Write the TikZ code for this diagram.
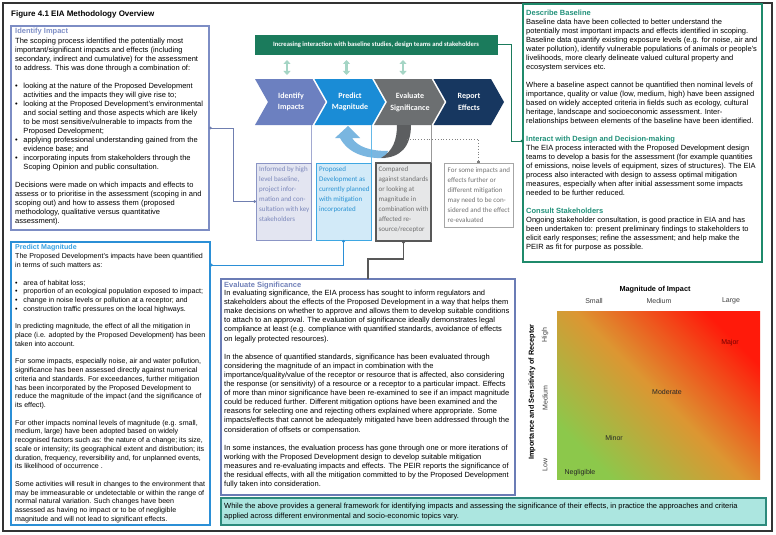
\documentclass[tikz,border=0pt]{standalone}
\usepackage{fontspec}
\setmainfont{Liberation Sans}
\newfontfamily\calfont{Carlito}
\usetikzlibrary{arrows.meta,calc}
\definecolor{idc}{HTML}{7D8DC4}
\definecolor{idh}{HTML}{7F8FC6}
\definecolor{pmc}{HTML}{2B8FD6}
\definecolor{pmh}{HTML}{35A0E2}
\definecolor{evc}{HTML}{6B7CB5}
\definecolor{evh}{HTML}{7080B8}
\definecolor{dbc}{HTML}{1F8A6B}
\definecolor{dbh}{HTML}{22917A}
\definecolor{gbarc}{HTML}{1B7B5C}
\definecolor{stripf}{HTML}{ACE6E0}
\definecolor{stripd}{HTML}{2D8A7C}
\definecolor{chA}{HTML}{6C80C0}
\definecolor{chB}{HTML}{1A8CD6}
\definecolor{chC}{HTML}{6C6F71}
\definecolor{chD}{HTML}{173760}
\definecolor{dbl}{HTML}{A5D5C5}
\definecolor{loopb}{HTML}{7AB6E0}
\definecolor{bAf}{HTML}{E3E5F1}
\definecolor{bAd}{HTML}{8B95C5}
\definecolor{bAt}{HTML}{7C88BB}
\definecolor{bBf}{HTML}{D2EAF8}
\definecolor{bBd}{HTML}{3EA7E2}
\definecolor{bBt}{HTML}{2A92D2}
\definecolor{bCf}{HTML}{E6E7E8}
\definecolor{bCd}{HTML}{585858}
\definecolor{bCt}{HTML}{707070}
\definecolor{matG}{HTML}{8CC84B}
\definecolor{matO}{HTML}{DC9632}
\definecolor{matR}{HTML}{FF1A0A}
\newcommand\bitem{\makebox[8.3pt][l]{\textbullet}}
\newcommand\bcont{\hspace*{8.3pt}}
\begin{document}
\begin{tikzpicture}[x=1pt,y=-1pt,
  txt/.style={anchor=north west, inner sep=0pt, align=left},
  box/.style={anchor=north west, inner sep=0pt, outer sep=0pt},
  dots/.style={{Circle[length=2.6pt]}-{Circle[length=2.6pt]}},
  chevlab/.style={text=white, align=center, inner sep=0pt, font=\calfont\bfseries\fontsize{8}{11.5}\selectfont},
  smalltxt/.style={txt, font=\calfont\fontsize{7}{10}\selectfont},
  dblarrow/.style={dbl, line width=2.6pt, {Triangle[width=7pt,length=4pt]}-{Triangle[width=7pt,length=4pt]}}
]
\useasboundingbox (0,0) rectangle (776,535);
\fill[white] (0,0) rectangle (776,535);
\node[box, draw=black!80, line width=1.1pt, minimum width=769pt, minimum height=528pt] (frame) at (3,3) {};
\node[txt, font=\bfseries\fontsize{8}{9}\selectfont] (title) at (11,11) {Figure 4.1 EIA Methodology Overview};

% ---------- Identify Impact box
\node[box, draw=idc, line width=1.1pt, minimum width=198pt, minimum height=204pt] (idbox) at (11,26) {};
\node[txt, font=\fontsize{7.5}{9}\selectfont] (idtext) at (15,28.3) {%
\textbf{\color{idh}Identify Impact}\\[1pt]
The scoping process identified the potentially most\\
important/significant impacts and effects (including\\
secondary, indirect and cumulative) for the assessment\\
to address.  This was done through a combination of:\\[9pt]
\bitem looking at the nature of the Proposed Development\\
\bcont activities and the impacts they will give rise to;\\
\bitem looking at the Proposed Development’s environmental\\
\bcont and social setting and those aspects which are likely\\
\bcont to be most sensitive/vulnerable to impacts from the\\
\bcont Proposed Development;\\
\bitem applying professional understanding gained from the\\
\bcont evidence base; and\\
\bitem incorporating inputs from stakeholders through the\\
\bcont Scoping Opinion and public consultation.\\[9pt]
Decisions were made on which impacts and effects to\\
assess or to prioritise in the assessment (scoping in and\\
scoping out) and how to assess them (proposed\\
methodology, qualitative versus quantitative\\
assessment).};

% ---------- Predict Magnitude box
\node[box, draw=pmc, line width=1.1pt, minimum width=199pt, minimum height=283pt] (pmbox) at (11,242) {};
\node[txt, font=\fontsize{7.1}{8.75}\selectfont] (pmtext) at (15,244) {%
\textbf{\color{pmh}Predict Magnitude}\\[0.8pt]
The Proposed Development’s impacts have been quantified\\
in terms of such matters as:\\[8.75pt]
\bitem area of habitat loss;\\
\bitem proportion of an ecological population exposed to impact;\\
\bitem change in noise levels or pollution at a receptor; and\\
\bitem construction traffic pressures on the local highways.\\[8.75pt]
In predicting magnitude, the effect of all the mitigation in\\
place (i.e. adopted by the Proposed Development) has been\\
taken into account.\\[8.75pt]
For some impacts, especially noise, air and water pollution,\\
significance has been assessed directly against numerical\\
criteria and standards.  For exceedances, further mitigation\\
has been incorporated by the Proposed Development to\\
reduce the magnitude of the impact (and the significance of\\
its effect).\\[8.75pt]
For other impacts nominal levels of magnitude (e.g. small,\\
medium, large) have been adopted based on widely\\
recognised factors such as: the nature of a change; its size,\\
scale or intensity; its geographical extent and distribution; its\\
duration, frequency, reversibility and, for unplanned events,\\
its likelihood of occurrence .\\[8.75pt]
Some activities will result in changes to the environment that\\
may be immeasurable or undetectable or within the range of\\
normal natural variation.  Such changes have been\\
assessed as having no impact or to be of negligible\\
magnitude and will not lead to significant effects.};

% ---------- Evaluate Significance box
\node[box, draw=evc, line width=1.1pt, minimum width=294pt, minimum height=216pt] (evbox) at (221,279) {};
\node[txt, font=\fontsize{7.5}{9.1}\selectfont] (evtext) at (224,282.3) {%
\textbf{\color{evh}Evaluate Significance}\\[-1.5pt]
In evaluating significance, the EIA process has sought to inform regulators and\\
stakeholders about the effects of the Proposed Development in a way that helps them\\
make decisions on whether to approve and allows them to develop suitable conditions\\
to attach to an approval.  The evaluation of significance ideally demonstrates legal\\
compliance at least (e.g. compliance with quantified standards, avoidance of effects\\
on legally protected resources).\\[9.1pt]
In the absence of quantified standards, significance has been evaluated through\\
considering the magnitude of an impact in combination with the\\
importance/quality/value of the receptor or resource that is affected, also considering\\
the response (or sensitivity) of a resource or a receptor to a particular impact.  Effects\\
of more than minor significance have been re-examined to see if an impact magnitude\\
could be reduced further.  Different mitigation options have been examined and the\\
reasons for selecting one and rejecting others explained where appropriate.  Some\\
impacts/effects that cannot be adequately mitigated have been addressed through the\\
consideration of offsets or compensation.\\[9.1pt]
In some instances, the evaluation process has gone through one or more iterations of\\
working with the Proposed Development design to develop suitable mitigation\\
measures and re-evaluating impacts and effects.  The PEIR reports the significance of\\
the residual effects, with all the mitigation committed to by the Proposed Development\\
fully taken into consideration.};

% ---------- Describe Baseline box
\node[box, draw=dbc, line width=1.2pt, minimum width=239pt, minimum height=258pt] (dbbox) at (523,4) {};
\node[txt, font=\fontsize{7.5}{9}\selectfont] (dbtext) at (526,10.3) {%
\textbf{\color{dbh}Describe Baseline}\\
Baseline data have been collected to better understand the\\
potentially most important impacts and effects identified in scoping.\\
Baseline data quantify existing exposure levels (e.g. for noise, air and\\
water pollution), identify vulnerable populations of animals or people’s\\
livelihoods, more clearly delineate valued cultural property and\\
ecosystem services etc.\\[9pt]
Where a baseline aspect cannot be quantified then nominal levels of\\
importance, quality or value (low, medium, high) have been assigned\\
based on widely accepted criteria in fields such as ecology, cultural\\
heritage, landscape and socioeconomic assessment.  Inter-\\
relationships between elements of the baseline have been identified.\\[9pt]
\textbf{\color{dbh}Interact with Design and Decision-making}\\
The EIA process interacted with the Proposed Development design\\
teams to develop a basis for the assessment (for example quantities\\
of emissions, noise levels of equipment, sizes of structures).  The EIA\\
process also interacted with design to assess optimal mitigation\\
measures, especially when after initial assessment some impacts\\
needed to be further reduced.\\[9pt]
\textbf{\color{dbh}Consult Stakeholders}\\
Ongoing stakeholder consultation, is good practice in EIA and has\\
been undertaken to: present preliminary findings to stakeholders to\\
elicit early responses; refine the assessment; and help make the\\
PEIR as fit for purpose as possible.};

% ---------- bottom strip
\node[box, draw=stripd, fill=stripf, line width=1.1pt, minimum width=545pt, minimum height=27pt] (strip) at (221,498) {};
\node[txt, font=\fontsize{7.5}{10}\selectfont] (striptext) at (224,503.3) {%
While the above provides a general framework for identifying impacts and assessing the significance of their effects, in practice the approaches and criteria\\
applied across different environmental and socio-economic topics vary.};

% ---------- green bar
\node[box, fill=gbarc, minimum width=243pt, minimum height=20pt] (gbar) at (255,35) {};
\node[text=white, inner sep=0pt, font=\calfont\bfseries\fontsize{6.6}{7}\selectfont] (gbartext) at (376,45) {Increasing interaction with baseline studies, design teams and stakeholders};
\coordinate (interact) at (523,141);
\draw[gbarc, line width=1pt, -{Circle[length=2.4pt]}] (gbar.east) -- ++(13,0) |- (interact);

% double arrows
\coordinate (da1t) at (287,60); \coordinate (da1b) at (287,75);
\coordinate (da2t) at (346.5,60); \coordinate (da2b) at (346.5,75);
\coordinate (da3t) at (403,60); \coordinate (da3b) at (403,75);
\draw[dblarrow] (da1t) -- (da1b);
\draw[dblarrow] (da2t) -- (da2b);
\draw[dblarrow] (da3t) -- (da3b);

% chevrons
\fill[chA] (255,79) -- ++(57.5,0) -- ++(13,23) -- ++(-13,23) -- ++(-57.5,0) -- ++(13,-23) -- cycle;
\fill[chB] (314.5,79) -- ++(57.5,0) -- ++(13,23) -- ++(-13,23) -- ++(-57.5,0) -- ++(13,-23) -- cycle;
\fill[chC] (374,79) -- ++(57.5,0) -- ++(13,23) -- ++(-13,23) -- ++(-57.5,0) -- ++(13,-23) -- cycle;
\fill[chD] (433.5,79) -- ++(57.5,0) -- ++(13,23) -- ++(-13,23) -- ++(-57.5,0) -- ++(13,-23) -- cycle;
\node[chevlab] (lab1) at (291,102) {Identify\\Impacts};
\node[chevlab] (lab2) at (350,102) {Predict\\Magnitude};
\node[chevlab] (lab3) at (410,102.5) {Evaluate\\Significance};
\node[chevlab] (lab4) at (469,102) {Report\\Effects};

% loop arrow
\fill[loopb] (340,138) .. controls (348,153) and (365,159) .. (385,158) -- (388,151) .. controls (370,151) and (358,147) .. (352,138) -- (360,138) -- (348,126) -- (335,138) -- cycle;
\fill[chC!85!black] (411,125) .. controls (411,147) and (400,158) .. (381,158) .. controls (393,151) and (397,140) .. (397,125) -- cycle;

% detail boxes
\node[box, draw=bAd, fill=bAf, line width=0.9pt, minimum width=55pt, minimum height=77pt] (b1) at (256,163) {};
\node[box, draw=bBd, fill=bBf, line width=0.9pt, minimum width=55pt, minimum height=77pt] (b2) at (316,163) {};
\node[box, draw=bCd, fill=bCf, line width=1.3pt, minimum width=55pt, minimum height=78pt] (b3) at (376,163) {};
\node[box, draw=black!35, fill=white, line width=0.7pt, minimum width=69pt, minimum height=64pt] (b4) at (444,163) {};
\node[smalltxt, text=bAt] (b1t) at (259,166.3) {Informed by high\\level baseline,\\project infor-\\mation and con-\\sultation with key\\stakeholders};
\node[smalltxt, text=bBt] (b2t) at (319,166.3) {Proposed\\Development as\\currently planned\\with mitigation\\incorporated};
\node[smalltxt, text=bCt] (b3t) at (378.5,166.3) {Compared\\against standards\\or looking at\\magnitude in\\combination with\\affected re-\\source/receptor};
\node[smalltxt, text=black!55] (b4t) at (447.5,167.3) {For some impacts and\\effects further or\\different mitigation\\may need to be con-\\sidered and the effect\\re-evaluated};

% chevron-to-box lines
\draw[bAd!80, line width=0.8pt] (b1.north east) -- ++(0,-38);
\draw[bBd!80, line width=0.8pt] (b2.north east) -- ++(0,-38);
\draw[black!40, line width=0.8pt] (b3.north east) -- ++(0,-38);

% connectors
\draw[idc!90!black, line width=0.9pt, dots] (idbox.east) -- ++(24,0) |- (b1.west);
\draw[pmc, line width=1pt, dots] (b2.south) |- ($(pmbox.north east)+(0,23)$);
\draw[bCd, line width=1.2pt, {Circle[length=2.6pt]}-] (b3.south) -- ++(0,18) -| (evbox.north);
\coordinate (loopc) at (407,139);
\draw[black!50, line width=0.8pt, dotted, -{Square[length=2.2pt]}] (loopc) -| (b4.north);

% ---------- matrix
\node[box, minimum width=203pt, minimum height=168pt] (mat) at (557,311) {};
\shade[left color=matG, right color=matR, middle color=matO, shading angle=135] (mat.north west) rectangle (mat.south east);
\node[inner sep=0pt, font=\bfseries\fontsize{7.3}{8}\selectfont] (magt) at (655,290) {Magnitude of Impact};
\node[inner sep=0pt, text=black!75, font=\fontsize{7}{8}\selectfont] (ms) at (594,301) {Small};
\node[inner sep=0pt, text=black!75, font=\fontsize{7}{8}\selectfont] (mm) at (659,301) {Medium};
\node[inner sep=0pt, text=black!75, font=\fontsize{7}{8}\selectfont] (ml) at (731,301) {Large};
\node[inner sep=0pt, rotate=90, font=\bfseries\fontsize{7.3}{8}\selectfont] (impt) at (532,392) {Importance and Sensitivity of Receptor};
\node[inner sep=0pt, rotate=90, text=black!75, font=\fontsize{7}{8}\selectfont] (sh) at (545,335) {High};
\node[inner sep=0pt, rotate=90, text=black!75, font=\fontsize{7}{8}\selectfont] (sm) at (545,398) {Medium};
\node[inner sep=0pt, rotate=90, text=black!75, font=\fontsize{7}{8}\selectfont] (sl) at (545,465) {Low};
\node[inner sep=0pt, text=red!45!black, font=\fontsize{7}{8}\selectfont] (major) at (730,343) {Major};
\node[inner sep=0pt, text=black!85, font=\fontsize{7}{8}\selectfont] (moderate) at (667,392) {Moderate};
\node[inner sep=0pt, text=black!85, font=\fontsize{7}{8}\selectfont] (minor) at (614,438) {Minor};
\node[inner sep=0pt, text=black!85, font=\fontsize{7}{8}\selectfont] (negl) at (580,473) {Negligible};
\end{tikzpicture}
\end{document}
